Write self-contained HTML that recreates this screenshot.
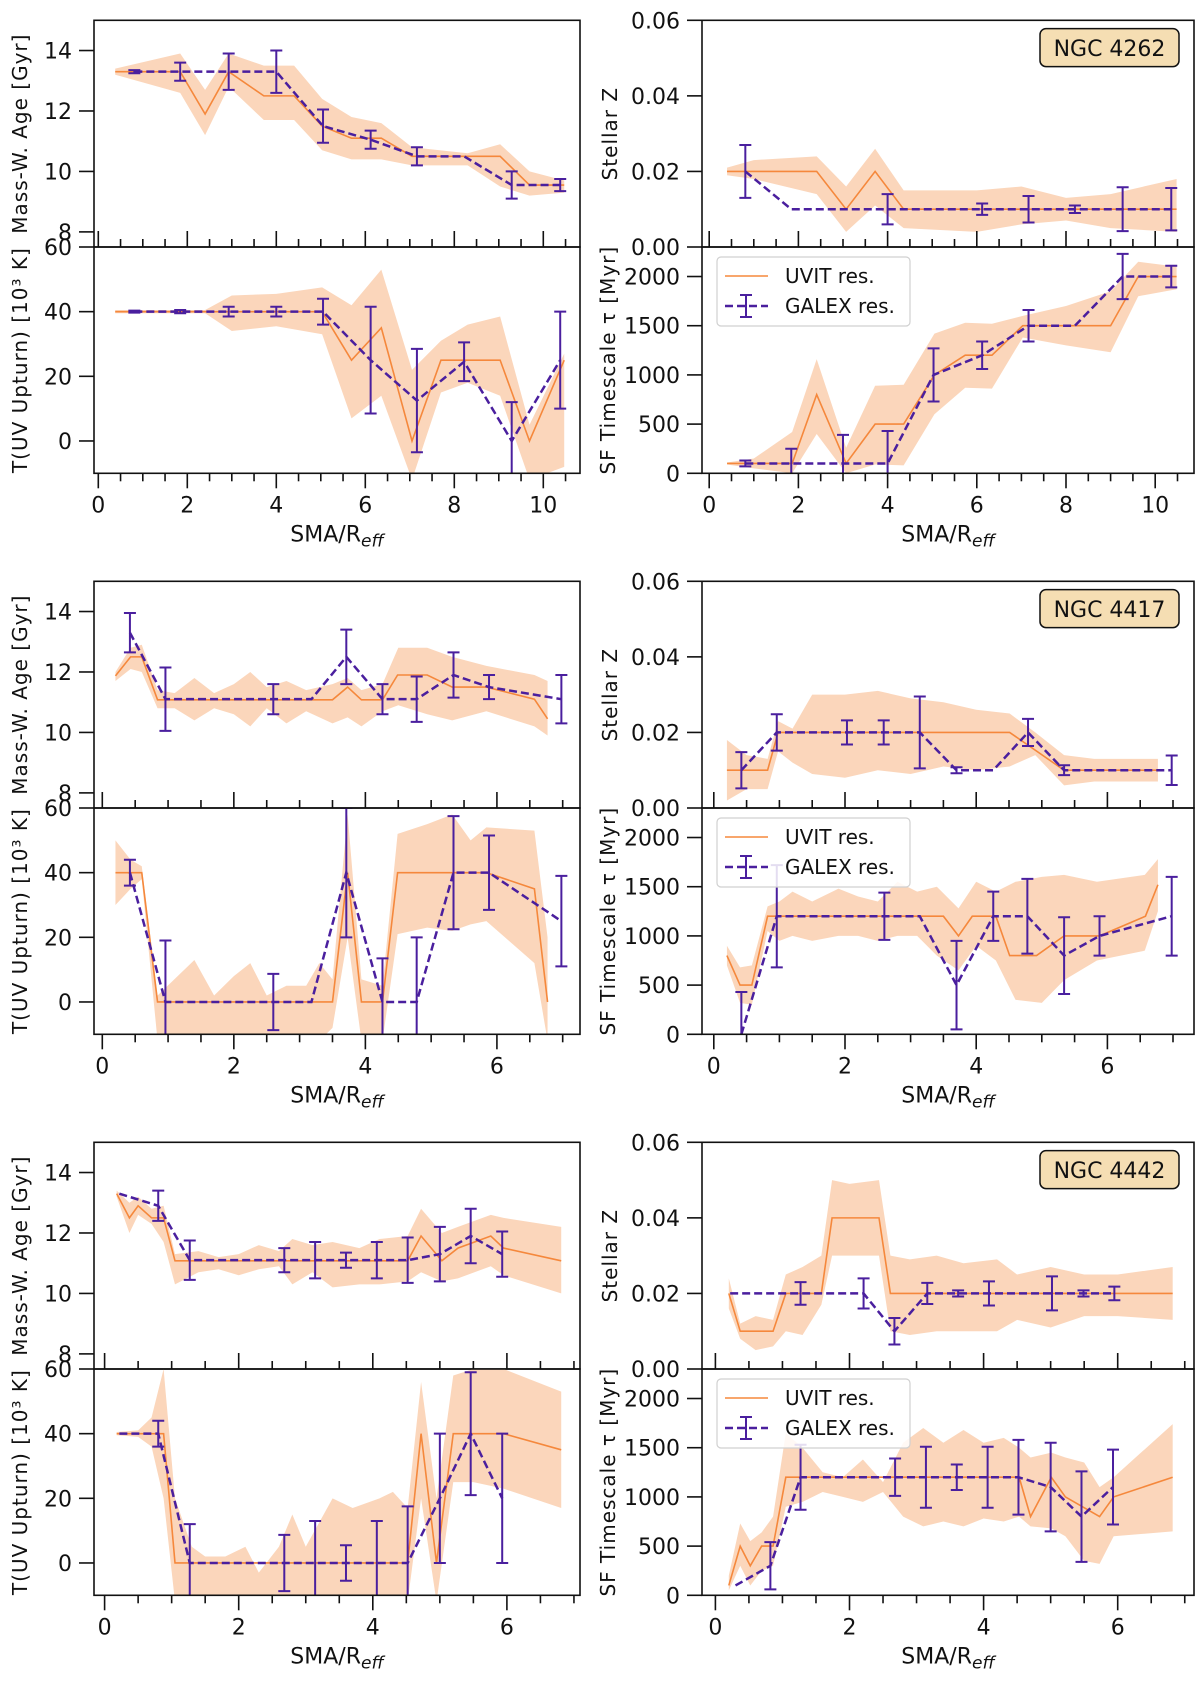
<!DOCTYPE html>
<html><head><meta charset="utf-8"><style>
html,body{margin:0;padding:0;background:#fff}
svg{display:block;font-family:"DejaVu Sans","Liberation Sans",sans-serif}
</style></head><body>
<svg id="fig" width="1200" height="1681" viewBox="0 0 1200 1681" xmlns="http://www.w3.org/2000/svg"></svg>
<script>
// ---------- data: NGC 4262 ----------
const g1_age_ux=[0.38,1.84,2.4,2.93,3.72,4.4,5.03,5.69,6.36,7.05,9.03,9.69,10.47];
const g1_age_uy=[13.3,13.3,11.9,13.3,12.5,12.5,11.5,11.1,11.1,10.5,10.5,9.55,9.55];
const g1_age_bx=[0.38,1.84,2.4,2.93,3.72,4.4,5.03,5.69,6.36,7.05,8.3,9.03,9.69,10.47];
const g1_age_bhi=[13.4,13.9,12.7,13.9,13.5,13.5,12.4,11.8,11.6,10.8,10.6,10.9,10.0,9.7];
const g1_age_blo=[13.2,12.6,11.2,12.8,11.7,11.7,10.7,10.4,10.4,10.2,10.2,9.5,9.2,9.3];
const g1_gx=[0.81,1.84,2.93,4.0,5.05,6.12,7.16,8.22,9.29,10.38];
const g1_age_gy=[13.3,13.3,13.3,13.3,11.5,11.05,10.5,10.5,9.55,9.55];
const g1_age_ge=[0.05,0.3,0.6,0.7,0.55,0.3,0.3,0,0.45,0.2];
const g1_t_ux=[0.38,5.03,5.69,6.36,7.05,7.7,9.03,9.69,10.47];
const g1_t_uy=[40,40,25,35,0,25,25,0,25];
const g1_t_bx=[0.38,2.4,3.0,4.0,5.03,5.69,6.36,7.05,7.7,8.3,9.03,9.69,10.47];
const g1_t_bhi=[40.5,40.5,45,45.5,47.5,42,53,22,31,36,38.5,5,27];
const g1_t_blo=[39.5,39.5,34,35.5,33,7,14,-12,15,18,14,-12,-8];
const g1_t_gy=[40,40,40,40,40,25,12.5,24.5,0,25];
const g1_t_ge=[0.3,0.5,1.5,1.5,4,16.5,16,6,12,15];
const g1_z_ux=[0.4,2.41,3.07,3.72,4.36,10.48];
const g1_z_uy=[0.02,0.02,0.01,0.02,0.01,0.01];
const g1_z_bx=[0.4,1.0,2.41,3.07,3.72,4.36,6.0,7.0,8.0,9.0,10.48];
const g1_z_bhi=[0.021,0.023,0.024,0.016,0.026,0.015,0.015,0.016,0.013,0.014,0.018];
const g1_z_blo=[0.019,0.018,0.014,0.004,0.011,0.005,0.004,0.006,0.007,0.005,0.004];
const g1_z_gx=[0.81,1.84,3.0,4.0,5.03,6.12,7.16,8.2,9.27,10.36];
const g1_z_gy=[0.02,0.01,0.01,0.01,0.01,0.01,0.01,0.01,0.01,0.01];
const g1_z_ge=[0.007,0,0,0.004,0,0.0015,0.0035,0.001,0.0058,0.0056];
const g1_tau_ux=[0.4,1.86,2.41,3.07,3.72,4.36,5.05,5.74,6.34,7.03,9.0,9.62,10.48];
const g1_tau_uy=[100,100,800,100,500,500,1000,1200,1200,1500,1500,2000,2000];
const g1_tau_bx=[0.4,1.0,1.86,2.41,3.07,3.72,4.36,5.05,5.74,6.34,7.03,8.0,9.0,9.62,10.48];
const g1_tau_bhi=[110,150,420,1160,260,890,900,1420,1530,1520,1600,1700,1850,2150,2100];
const g1_tau_blo=[90,50,0,400,0,90,80,600,870,860,1380,1300,1230,1800,1870];
const g1_tau_gy=[100,100,100,100,1000,1200,1500,1500,2000,2000];
const g1_tau_ge=[30,150,290,330,270,140,160,0,230,110];
// ---------- data: NGC 4417 ----------
const g2_age_ux=[0.2,0.43,0.6,0.84,3.5,3.73,3.94,4.26,4.49,4.94,5.32,5.84,6.57,6.77];
const g2_age_uy=[11.87,12.5,12.5,11.08,11.08,11.5,11.08,11.08,11.9,11.9,11.5,11.5,11.1,10.45];
const g2_age_bx=[0.2,0.43,0.6,0.84,1.1,1.4,1.7,2.0,2.25,2.5,2.8,3.1,3.5,3.73,3.94,4.26,4.5,4.94,5.32,5.84,6.57,6.77];
const g2_age_bhi=[12.0,12.8,12.9,11.4,11.3,11.8,11.3,11.6,12.0,11.5,11.7,11.4,11.6,11.8,11.4,11.6,12.8,12.8,12.5,12.2,11.9,11.7];
const g2_age_blo=[11.7,12.1,12.0,10.8,10.8,10.4,10.8,10.6,10.2,10.8,10.3,10.7,10.3,10.5,10.2,10.7,10.9,10.6,10.4,10.7,10.2,9.9];
const g2_gx=[0.42,0.96,2.6,3.18,3.71,4.26,4.78,5.34,5.88,6.98];
const g2_age_gy=[13.3,11.1,11.1,11.1,12.5,11.1,11.1,11.9,11.5,11.1];
const g2_age_ge=[0.65,1.05,0.5,0,0.9,0.5,0.75,0.75,0.4,0.8];
const g2_t_ux=[0.2,0.6,0.84,3.5,3.73,3.94,4.26,4.49,5.84,6.57,6.77];
const g2_t_uy=[40,40,0,0,40,0,0,40,40,35,0];
const g2_t_bx=[0.2,0.43,0.6,0.84,1.4,1.7,2.0,2.25,2.5,2.8,3.1,3.3,3.5,3.73,3.94,4.26,4.49,4.94,5.32,5.6,5.84,6.57,6.77];
const g2_t_bhi=[50,44,42,2,13,2,8,12,2,5,5,12,7,58,7,5,52,55,58,50,54,53,20];
const g2_t_blo=[30,35,38,-12,-12,-12,-12,-12,-12,-12,-12,-12,-8,20,-12,-12,21,23,22,24,25,12,-12];
const g2_t_gy=[40,0,0,0,40,0,0,40,40,25];
const g2_t_ge=[4,19,8.7,0,20,13.5,20,17.5,11.5,14];
const g2_z_ux=[0.2,0.82,0.98,4.51,5.34,6.77];
const g2_z_uy=[0.01,0.01,0.02,0.02,0.01,0.01];
const g2_z_bx=[0.2,0.5,0.82,0.98,1.2,1.5,2.0,2.5,3.0,3.5,4.0,4.51,4.9,5.34,5.8,6.77];
const g2_z_bhi=[0.018,0.014,0.013,0.023,0.021,0.03,0.03,0.031,0.029,0.028,0.026,0.025,0.02,0.014,0.013,0.013];
const g2_z_blo=[0.002,0.005,0.005,0.015,0.012,0.009,0.008,0.01,0.009,0.011,0.01,0.011,0.014,0.006,0.007,0.007];
const g2_z_gx=[0.42,0.96,2.03,2.59,3.14,3.7,4.26,4.79,5.34,6.98];
const g2_z_gy=[0.01,0.02,0.02,0.02,0.02,0.01,0.01,0.02,0.01,0.01];
const g2_z_ge=[0.0048,0.0048,0.0032,0.0032,0.0095,0.0008,0,0.0036,0.0013,0.0039];
const g2_tau_ux=[0.2,0.4,0.58,0.82,3.5,3.73,3.94,4.3,4.51,4.92,5.34,5.88,6.58,6.77];
const g2_tau_uy=[800,500,500,1200,1200,1000,1200,1200,800,800,1000,1000,1200,1520];
const g2_tau_bx=[0.2,0.4,0.58,0.82,1.0,1.2,1.5,1.9,2.2,2.5,2.8,3.1,3.4,3.73,4.0,4.3,4.6,5.0,5.34,5.84,6.57,6.77];
const g2_tau_bhi=[900,680,700,1300,1350,1450,1350,1480,1400,1350,1550,1450,1500,1280,1550,1450,1550,1600,1620,1550,1620,1780];
const g2_tau_blo=[700,320,300,1050,950,1000,950,1000,1000,950,1000,1000,800,650,900,750,350,320,550,750,850,1250];
const g2_tau_gx=[0.42,0.96,2.6,3.14,3.7,4.26,4.78,5.34,5.88,6.98];
const g2_tau_gy=[0,1200,1200,1200,500,1200,1200,800,1000,1200];
const g2_tau_ge=[430,520,240,0,450,250,380,390,200,400];
// ---------- data: NGC 4442 ----------
const g3_age_ux=[0.18,0.37,0.5,0.7,0.88,1.05,4.52,4.72,5.03,5.27,5.76,5.95,6.81];
const g3_age_uy=[13.3,12.5,12.9,12.5,12.5,11.08,11.08,11.9,11.08,11.5,11.9,11.5,11.08];
const g3_age_bx=[0.18,0.37,0.5,0.7,0.88,1.05,1.4,1.7,2.0,2.3,2.6,2.8,3.1,3.4,3.8,4.1,4.52,4.72,5.03,5.27,5.76,5.95,6.81];
const g3_age_bhi=[13.4,13.0,13.2,12.8,12.9,11.3,11.4,11.2,11.3,11.6,11.4,11.8,11.6,11.7,11.5,11.8,11.9,12.8,12.0,12.2,12.6,12.5,12.2];
const g3_age_blo=[13.2,12.0,12.6,12.3,11.7,10.3,10.7,10.8,10.6,10.8,10.9,10.3,10.7,10.2,10.3,10.3,10.4,10.7,10.4,10.5,10.9,10.6,10.0];
const g3_gx=[0.22,0.8,1.27,2.68,3.14,3.6,4.06,4.52,5.0,5.46,5.93];
const g3_age_gy=[13.3,12.9,11.1,11.1,11.1,11.1,11.1,11.1,11.3,11.9,11.3];
const g3_age_ge=[0,0.5,0.65,0.4,0.6,0.25,0.6,0.75,0.9,0.9,0.75];
const g3_t_ux=[0.18,0.88,1.05,4.52,4.72,4.95,5.2,5.95,6.81];
const g3_t_uy=[40,40,0,0,40,0,40,40,35];
const g3_t_bx=[0.18,0.5,0.7,0.88,1.05,1.3,1.5,1.8,2.1,2.3,2.6,2.8,3.0,3.4,3.7,4.1,4.3,4.52,4.72,4.95,5.2,5.5,5.95,6.81];
const g3_t_bhi=[40.5,41,45,60,20,5,2,2,5,-3,5,15,5,20,17,20,22,17,56,20,58,60,60,53];
const g3_t_blo=[39.5,39,36,20,-12,-12,-12,-12,-12,-12,-12,-12,-12,-12,-12,-12,-12,-12,20,-12,25,25,23,17];
const g3_t_gy=[40,40,0,0,0,0,0,0,20,40,20];
const g3_t_ge=[0,4,12,8.7,13,5.5,13,17.5,20,19,20];
const g3_z_ux=[0.2,0.37,0.86,1.05,1.58,1.74,2.44,2.61,6.82];
const g3_z_uy=[0.02,0.01,0.01,0.02,0.02,0.04,0.04,0.02,0.02];
const g3_z_bx=[0.2,0.37,0.6,0.86,1.05,1.3,1.58,1.74,2.0,2.44,2.61,2.9,3.3,3.7,4.2,4.5,5.0,5.5,6.0,6.82];
const g3_z_bhi=[0.024,0.012,0.014,0.013,0.025,0.027,0.03,0.05,0.049,0.05,0.03,0.029,0.03,0.028,0.029,0.025,0.027,0.025,0.025,0.027];
const g3_z_blo=[0.016,0.008,0.005,0.006,0.01,0.009,0.017,0.03,0.03,0.03,0.01,0.009,0.01,0.01,0.01,0.013,0.011,0.014,0.014,0.013];
const g3_z_gx=[0.22,1.27,2.21,2.67,3.16,3.62,4.08,5.02,5.49,5.95];
const g3_z_gy=[0.02,0.02,0.02,0.01,0.02,0.02,0.02,0.02,0.02,0.02];
const g3_z_ge=[0,0.003,0.004,0.0035,0.0028,0.0008,0.0032,0.0045,0.0008,0.0018];
const g3_tau_ux=[0.2,0.37,0.52,0.69,0.86,1.05,4.53,4.7,5.01,5.22,5.73,5.94,6.82];
const g3_tau_uy=[100,500,300,500,500,1200,1200,800,1200,1000,800,1000,1200];
const g3_tau_bx=[0.2,0.37,0.52,0.69,0.86,1.05,1.3,1.6,1.9,2.2,2.5,2.8,3.1,3.4,3.7,4.0,4.3,4.53,4.7,5.01,5.22,5.5,5.73,5.94,6.82];
const g3_tau_bhi=[200,730,550,640,800,1650,1500,1250,1200,1380,1150,1550,1700,1550,1680,1550,1600,1500,1400,1450,1400,1350,1100,1200,1740];
const g3_tau_blo=[50,300,100,250,300,900,950,1050,1000,950,1050,800,700,750,700,780,750,800,700,680,600,350,320,600,650];
const g3_tau_gx=[0.3,0.82,1.27,2.68,3.14,3.6,4.06,4.52,5.0,5.46,5.93];
const g3_tau_gy=[100,300,1200,1200,1200,1200,1200,1200,1100,800,1100];
const g3_tau_ge=[0,240,330,190,310,130,310,380,450,460,380];

const galaxyNames=["NGC 4262","NGC 4417","NGC 4442"];
const ageTicks=[8,10,12,14], tTicks=[0,20,40,60], zTicks=[0,0.02,0.04,0.06], tauTicks=[0,500,1000,1500,2000];
const zTickLabels=["0.00","0.02","0.04","0.06"];

const NS="http://www.w3.org/2000/svg";
const svg=document.getElementById('fig');
function mk(tag,attrs,parent){const e=document.createElementNS(NS,tag);for(const k in attrs)e.setAttribute(k,attrs[k]);(parent||svg).appendChild(e);return e;}
const ORANGE="#f5883c", BAND="#fbd6bb", PURPLE="#4a1f9e";
let clipId=0;

function panel(g, px0, px1, py0, py1, xz, xk, xmaxTick, ylim, yt, ytl, isTop, data, label, labelX){
  const X=v=>xz+v*xk;
  const Y=v=>py1-(v-ylim[0])/(ylim[1]-ylim[0])*(py1-py0);
  const cid='c'+(clipId++);
  const cp=mk('clipPath',{id:cid});mk('rect',{x:px0,y:py0,width:px1-px0,height:py1-py0},cp);
  const grp=mk('g',{'clip-path':'url(#'+cid+')'});
  
  
  let d='';data.bx.forEach((x,i)=>{d+=(i?'L':'M')+X(x)+','+Y(data.bhi[i]);});
  for(let i=data.bx.length-1;i>=0;i--)d+='L'+X(data.bx[i])+','+Y(data.blo[i]);
  const band=mk('path',{d:d+'Z',fill:BAND,stroke:'none'},grp);
  
  
  const ul=mk('polyline',{points:data.ux.map((x,i)=>X(x)+','+Y(data.uy[i])).join(' '),fill:'none',stroke:ORANGE,'stroke-width':1.6},grp);
  
  
  const gl=mk('polyline',{points:data.gx.map((x,i)=>X(x)+','+Y(data.gy[i])).join(' '),fill:'none',stroke:PURPLE,'stroke-width':2.5,'stroke-dasharray':'8,4'},grp);
  
  
  data.gx.forEach((x,i)=>{
    const e=data.ge[i]; if(!(e>0))return;
    const cx=X(x), y1=Y(data.gy[i]+e), y2=Y(data.gy[i]-e);
    const eb=mk('path',{d:`M${cx},${y1}V${y2}M${cx-6},${y1}H${cx+6}M${cx-6},${y2}H${cx+6}`,stroke:PURPLE,'stroke-width':2,fill:'none'},grp);
    
    
  });
  const fr=mk('rect',{x:px0,y:py0,width:px1-px0,height:py1-py0,fill:'none',stroke:'#111','stroke-width':1.6});
  
  
  yt.forEach((v,i)=>{
    const y=Y(v);
    mk('line',{x1:px0-15,x2:px0,y1:y,y2:y,stroke:'#111','stroke-width':1.6});
    const t=mk('text',{x:px0-22,y:y+8,'text-anchor':'end','font-size':22,fill:'#111'});
    t.textContent=ytl[i];
    
    
  });
  for(let k=0;k<=xmaxTick*2;k++){
    const v=k/2, x=X(v); if(x<px0||x>px1)continue;
    const major=(k%4===0);
    if(isTop) mk('line',{x1:x,x2:x,y1:py1,y2:py1-(major?16:8),stroke:'#111','stroke-width':1.6});
    else{
      mk('line',{x1:x,x2:x,y1:py1,y2:py1+(major?15:8),stroke:'#111','stroke-width':1.6});
      if(major){const t=mk('text',{x:x,y:py1+39,'text-anchor':'middle','font-size':22,fill:'#111'});t.textContent=String(v);
        
        }
    }
  }
  const yl=mk('text',{x:0,y:0,transform:`translate(${labelX},${(py0+py1)/2}) rotate(-90)`,'text-anchor':'middle','font-size':20,'letter-spacing':'1',fill:'#111'});
  yl.textContent=label;
  
  
  if(!isTop){
    const xl=mk('text',{x:(px0+px1)/2,y:py1+68,'text-anchor':'middle','font-size':22,fill:'#111'});
    
    
    xl.appendChild(document.createTextNode('SMA/R'));
    const s=mk('tspan',{'font-style':'italic','font-size':17,dy:5},xl);s.textContent='eff';
  }
}

const groups=[
 {off:0, lz:98.3,lk:44.5, rz:709.2,rk:44.6, maxT:11,
  age:{ux:g1_age_ux,uy:g1_age_uy,bx:g1_age_bx,bhi:g1_age_bhi,blo:g1_age_blo,gx:g1_gx,gy:g1_age_gy,ge:g1_age_ge},
  t:{ux:g1_t_ux,uy:g1_t_uy,bx:g1_t_bx,bhi:g1_t_bhi,blo:g1_t_blo,gx:g1_gx,gy:g1_t_gy,ge:g1_t_ge},
  z:{ux:g1_z_ux,uy:g1_z_uy,bx:g1_z_bx,bhi:g1_z_bhi,blo:g1_z_blo,gx:g1_z_gx,gy:g1_z_gy,ge:g1_z_ge},
  tau:{ux:g1_tau_ux,uy:g1_tau_uy,bx:g1_tau_bx,bhi:g1_tau_bhi,blo:g1_tau_blo,gx:g1_z_gx,gy:g1_tau_gy,ge:g1_tau_ge}},
 {off:561, lz:102.3,lk:65.77, rz:713.8,rk:65.6, maxT:8,
  age:{ux:g2_age_ux,uy:g2_age_uy,bx:g2_age_bx,bhi:g2_age_bhi,blo:g2_age_blo,gx:g2_gx,gy:g2_age_gy,ge:g2_age_ge},
  t:{ux:g2_t_ux,uy:g2_t_uy,bx:g2_t_bx,bhi:g2_t_bhi,blo:g2_t_blo,gx:g2_gx,gy:g2_t_gy,ge:g2_t_ge},
  z:{ux:g2_z_ux,uy:g2_z_uy,bx:g2_z_bx,bhi:g2_z_bhi,blo:g2_z_blo,gx:g2_z_gx,gy:g2_z_gy,ge:g2_z_ge},
  tau:{ux:g2_tau_ux,uy:g2_tau_uy,bx:g2_tau_bx,bhi:g2_tau_bhi,blo:g2_tau_blo,gx:g2_tau_gx,gy:g2_tau_gy,ge:g2_tau_ge}},
 {off:1122, lz:104.6,lk:67.05, rz:715.4,rk:67.05, maxT:8,
  age:{ux:g3_age_ux,uy:g3_age_uy,bx:g3_age_bx,bhi:g3_age_bhi,blo:g3_age_blo,gx:g3_gx,gy:g3_age_gy,ge:g3_age_ge},
  t:{ux:g3_t_ux,uy:g3_t_uy,bx:g3_t_bx,bhi:g3_t_bhi,blo:g3_t_blo,gx:g3_gx,gy:g3_t_gy,ge:g3_t_ge},
  z:{ux:g3_z_ux,uy:g3_z_uy,bx:g3_z_bx,bhi:g3_z_bhi,blo:g3_z_blo,gx:g3_z_gx,gy:g3_z_gy,ge:g3_z_ge},
  tau:{ux:g3_tau_ux,uy:g3_tau_uy,bx:g3_tau_bx,bhi:g3_tau_bhi,blo:g3_tau_blo,gx:g3_tau_gx,gy:g3_tau_gy,ge:g3_tau_ge}}
];

groups.forEach((G,gi)=>{
  const top=20.3+G.off, mid=247+G.off, bot=473.3+G.off;
  const L0=94,L1=580,R0=702,R1=1194;
  panel(gi,L0,L1,top,mid,G.lz,G.lk,G.maxT,[7.5,15],ageTicks,ageTicks.map(String),true,G.age,'Mass-W. Age [Gyr]',27);
  panel(gi,L0,L1,mid,bot,G.lz,G.lk,G.maxT,[-10,60],tTicks,tTicks.map(String),false,G.t,'T(UV Upturn) [10³ K]',27);
  panel(gi,R0,R1,top,mid,G.rz,G.rk,G.maxT,[0,0.06],zTicks,zTickLabels,true,G.z,'Stellar Z',617);
  panel(gi,R0,R1,mid,bot,G.rz,G.rk,G.maxT,[0,2300],tauTicks,tauTicks.map(String),false,G.tau,'SF Timescale τ [Myr]',615);
  const nb=mk('rect',{x:1040,y:28.6+G.off,width:139,height:38,rx:6,fill:'#f5deb3',stroke:'#111','stroke-width':1.5});
  
  
  const nt=mk('text',{x:1109.5,y:56+G.off,'text-anchor':'middle','font-size':22,fill:'#111'});
  nt.textContent=galaxyNames[gi];
  
  
  const lg=mk('g',{});
  
  
  mk('rect',{x:717,y:257+G.off,width:193,height:69,rx:4,fill:'#fff','fill-opacity':0.85,stroke:'#d0d0d0','stroke-width':1.2},lg);
  const e1=mk('g',{},lg);
  
  
  mk('line',{x1:725,x2:768,y1:276+G.off,y2:276+G.off,stroke:ORANGE,'stroke-width':1.6},e1);
  const t1=mk('text',{x:785,y:283+G.off,'font-size':20,fill:'#111'},e1);t1.textContent='UVIT res.';
  const e2=mk('g',{},lg);
  
  
  const yy=306+G.off;
  mk('line',{x1:725,x2:768,y1:yy,y2:yy,stroke:PURPLE,'stroke-width':2.5,'stroke-dasharray':'8,4'},e2);
  mk('path',{d:`M746,${yy-11}V${yy+11}M740,${yy-11}H752M740,${yy+11}H752`,stroke:PURPLE,'stroke-width':2,fill:'none'},e2);
  const t2=mk('text',{x:785,y:313+G.off,'font-size':20,fill:'#111'},e2);t2.textContent='GALEX res.';
});
</script>
</body></html>
